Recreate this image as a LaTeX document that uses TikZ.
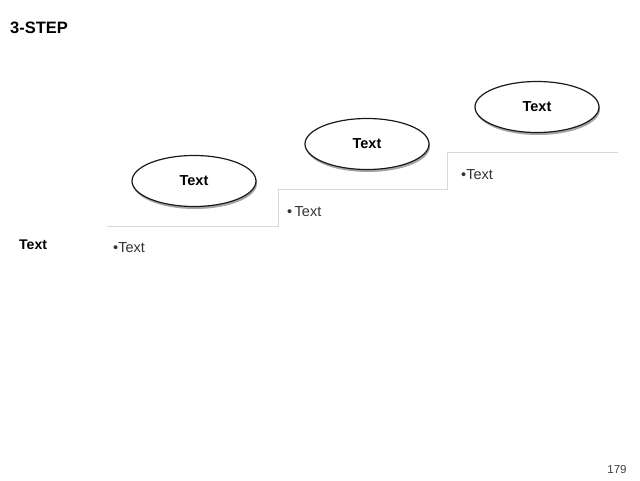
\documentclass[tikz,border=0pt]{standalone}
\usepackage{fontspec}
\setmainfont{Liberation Sans}
\usetikzlibrary{positioning,calc,shapes.geometric,shadows}
\tikzset{
  sstep/.style  ={ellipse, draw=black!90, line width=1.2pt, fill=white,
                  minimum width=124pt, minimum height=51pt, inner sep=0pt,
                  font=\fontsize{14.5}{16}\selectfont\bfseries,
                  drop shadow={shadow xshift=1pt, shadow yshift=-2.5pt, opacity=.5, fill=black!70}},
  sbullet/.style={anchor=west, inner sep=0pt, text=black!80,
                  font=\fontsize{14.5}{16}\selectfont},
  sline/.style  ={draw=black!15, line width=1pt},
}
\begin{document}
\begin{tikzpicture}[x=1pt, y=-1pt]
  \useasboundingbox (0,0) rectangle (640,480);

  % ---- title ----
  \node[anchor=west, inner sep=0pt, font=\fontsize{16.5}{18}\selectfont\bfseries] (title) at (10,28) {3-STEP};
  \node[anchor=west, inner sep=0pt, font=\fontsize{14}{16}\selectfont\bfseries] (lbl) at (19,245) {Text};

  % ---- stair corners ----
  \coordinate (s0) at (107,226);
  \coordinate (s1) at (278,226);
  \coordinate (s2) at (278,189);
  \coordinate (s3) at (447,189);
  \coordinate (s4) at (447,152);
  \coordinate (s5) at (618,152);
  \draw[sline] (s0) -- (s1) -- (s2) -- (s3) -- (s4) -- (s5);

  % ---- steps ----
  \node[sstep] (stepA) at (194,181) {Text};
  \node[sstep] (stepB) at (367,144) {Text};
  \node[sstep] (stepC) at (537,107) {Text};

  % ---- bullets ----
  \node[sbullet] (bulA) at (113,248) {\textbullet Text};
  \node[sbullet] (bulB) at (287,212) {\textbullet\,Text};
  \node[sbullet] (bulC) at (461,175) {\textbullet Text};

  % ---- page number ----
  \node[inner sep=0pt, text=black!75, font=\fontsize{11.5}{13}\selectfont] (page) at (617,470) {179};
\end{tikzpicture}
\end{document}
